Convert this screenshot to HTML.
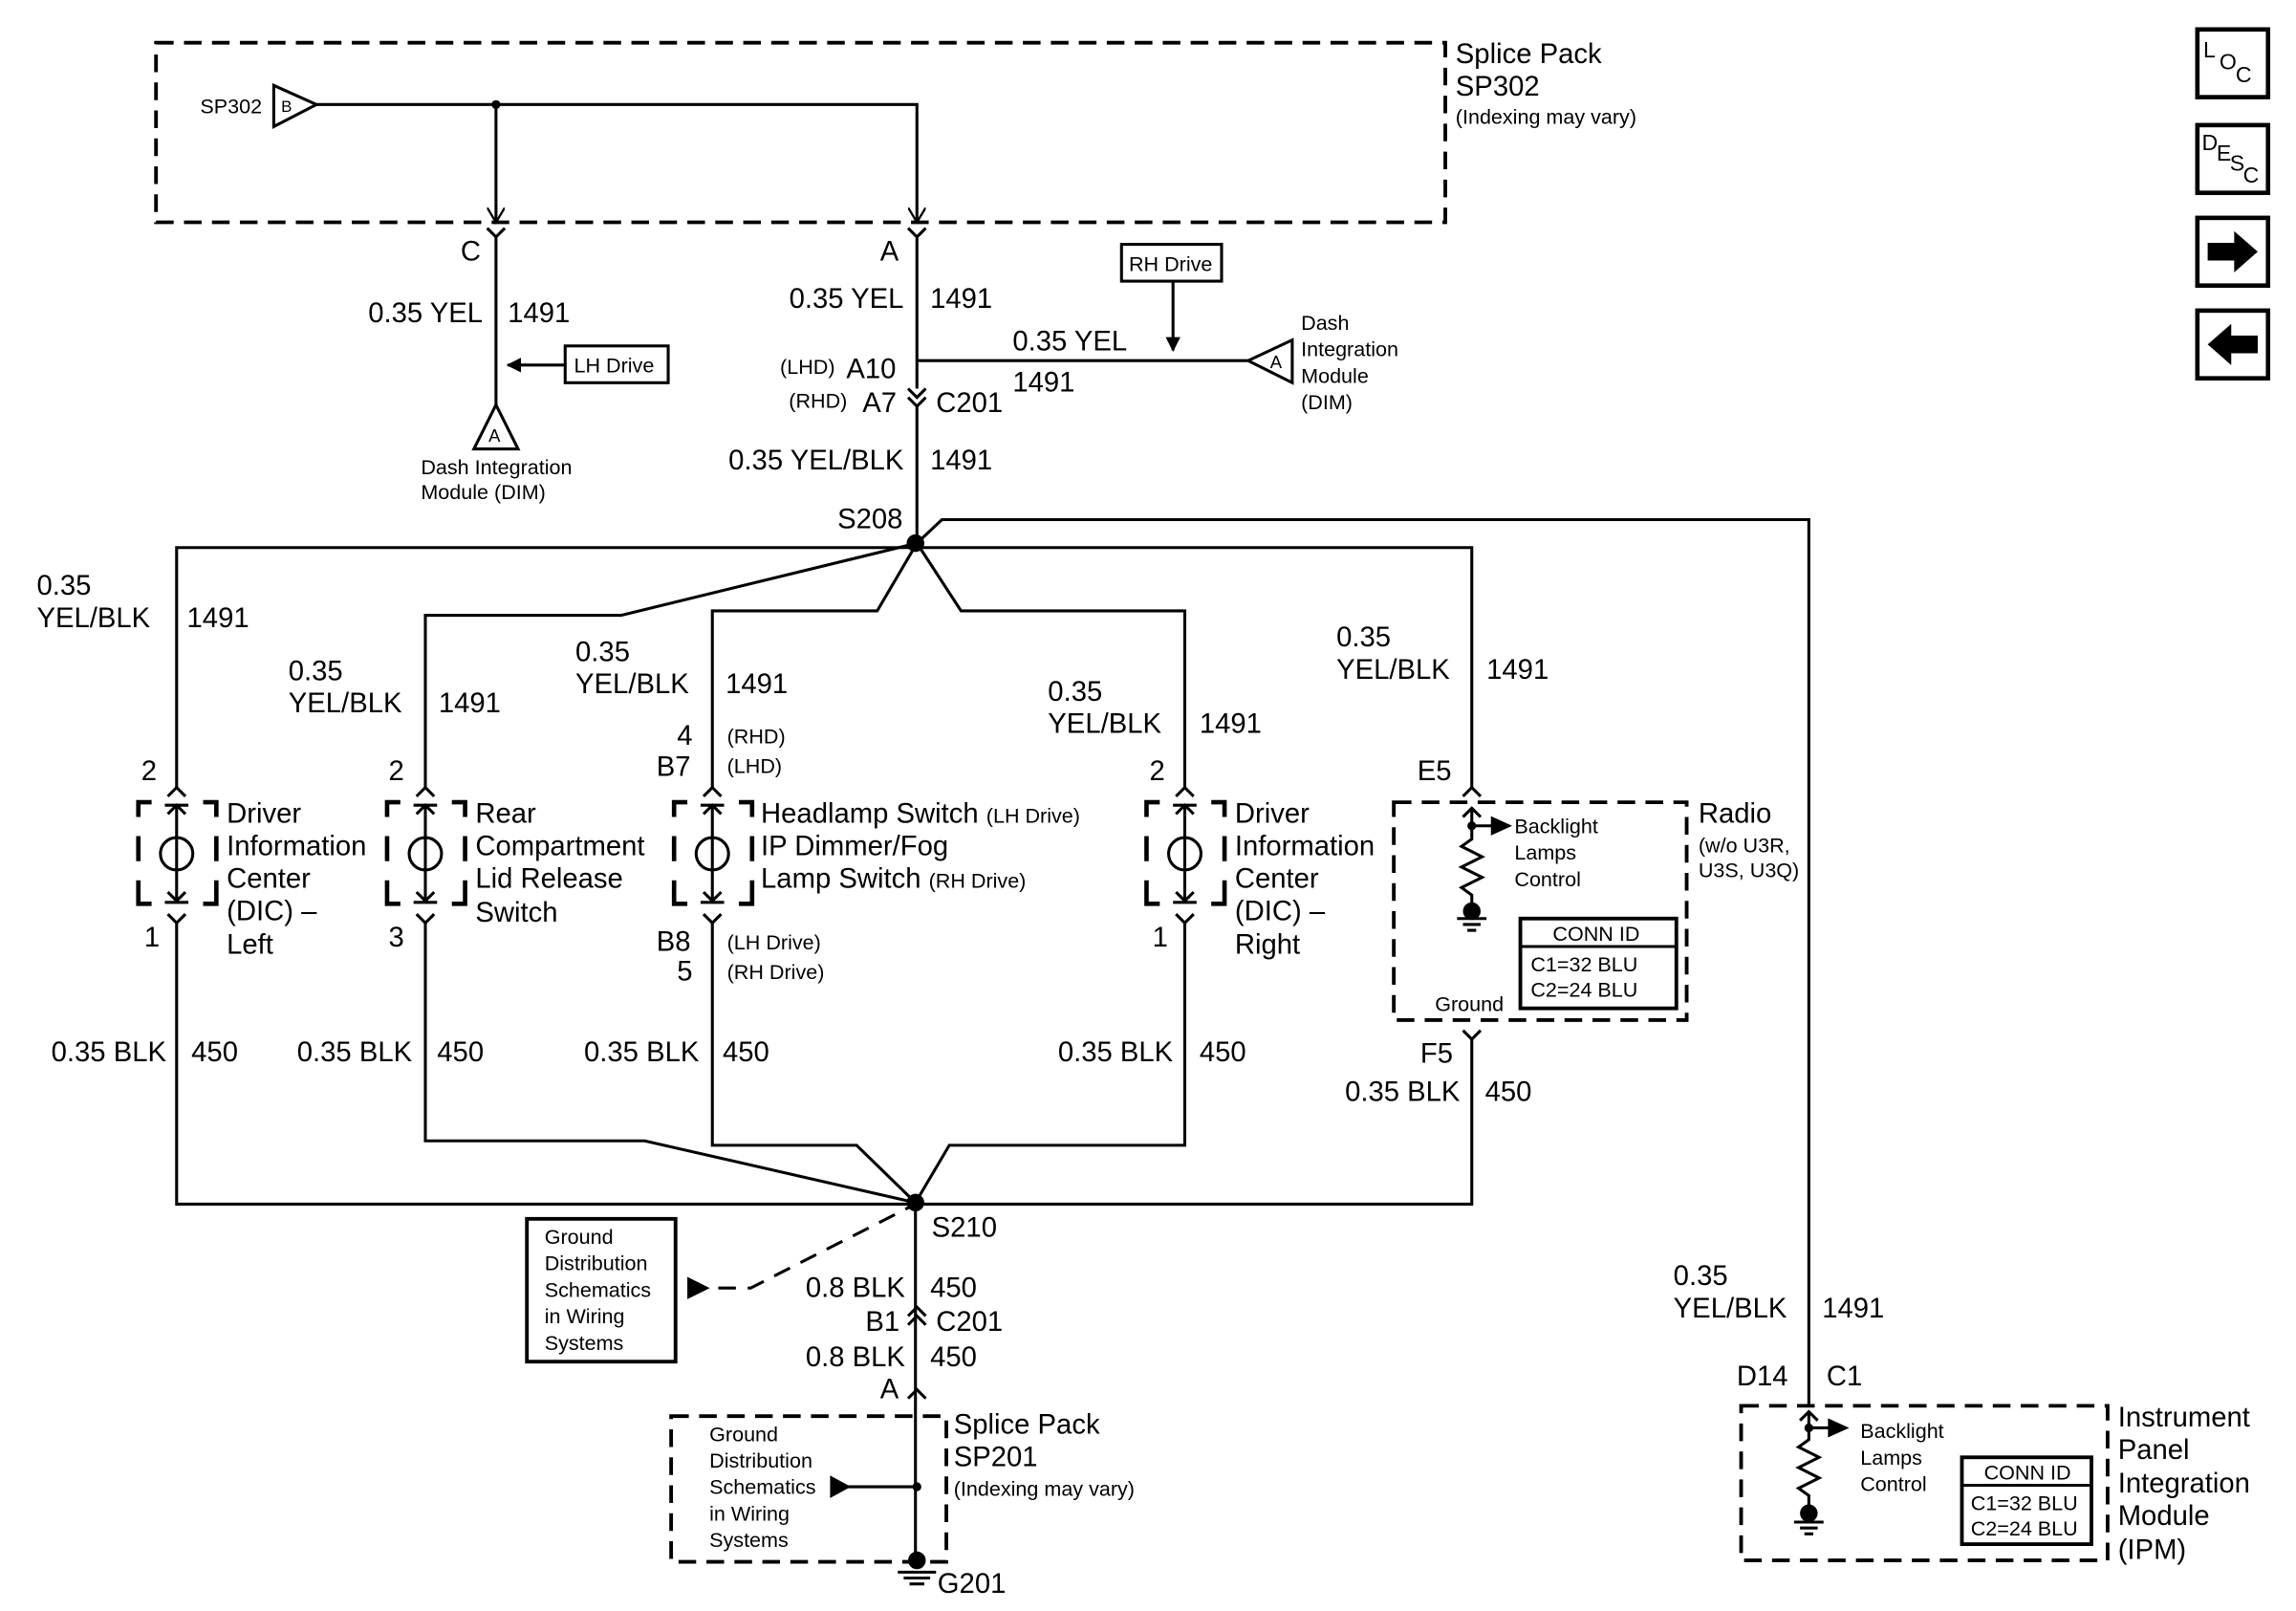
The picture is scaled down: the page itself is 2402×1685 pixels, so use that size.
<!DOCTYPE html>
<html><head><meta charset="utf-8"><style>
html,body{margin:0;padding:0;background:#fff;}
svg{display:block;}
text{font-family:"Liberation Sans",Arial,sans-serif;fill:#000;}
.b{font-size:19px;}
.s{font-size:14px;}
.m{font-size:15px;}
.r{text-anchor:end;}
</style></head><body>
<svg width="2402" height="1685" viewBox="0 0 1560 1094.4" preserveAspectRatio="none" xmlns="http://www.w3.org/2000/svg">
<defs>
<marker id="ah" markerWidth="10" markerHeight="10" refX="9" refY="5" orient="auto" markerUnits="userSpaceOnUse"><path d="M0,0 L10,5 L0,10 z" fill="#000"/></marker>
<marker id="oa" markerWidth="12" markerHeight="12" refX="10" refY="6" orient="auto" markerUnits="userSpaceOnUse"><path d="M0,0 L10,6 L0,12" fill="none" stroke="#000" stroke-width="1.5"/></marker>
</defs>
<g fill="none" stroke="#000" stroke-width="2">
<!-- top splice box -->
<rect x="106" y="29" width="876" height="122" stroke-dasharray="12,7" stroke-width="2.5"/>
<path d="M186,58 L215,71 L186,86 Z"/>
<path d="M215,71 H623 V151" marker-end="url(#oa)"/>
<path d="M337,71 V151" marker-end="url(#oa)"/>
<!-- connectors C, A -->
<path d="M331,155 L337,161 L343,155 M337,161 V275"/>
<path d="M617,155 L623,161 L629,155 M623,161 V264"/>
<path d="M322,305 L337,275 L352,305 Z"/>
<path d="M384,248 H345" marker-end="url(#ah)"/>
<rect x="384" y="235" width="70" height="25"/>
<!-- C201 top -->
<path d="M617,264 L623,270 L629,264 M617,270 L623,276 L629,270 M623,276 V369"/>
<path d="M623,245 H848"/>
<path d="M848,245 L878,231 L878,260 Z"/>
<rect x="762" y="166" width="68" height="25"/>
<path d="M797,191 V238" marker-end="url(#ah)"/>
<!-- S208 network -->
<path d="M623,369 L640,353 H1229 V955"/>
<path d="M120,535 V372 H1000 V535"/>
<path d="M623,369 L422,418 H289 V535"/>
<path d="M623,369 L596,415 H484 V535"/>
<path d="M623,369 L653,415 H805 V535"/>
<!-- bottom network -->
<path d="M120,627 V818 H1000 V706"/>
<path d="M289,627 V775 H438 L622,817"/>
<path d="M484,627 V778 H582 L622,817"/>
<path d="M805,627 V778 H645 L622,817"/>
<path d="M622,817 V1060"/>
<path d="M617,894 L623,888 L629,894 M617,900 L623,894 L629,900"/>
<path d="M617,950 L623,944 L629,950"/>
<path d="M468,875 H510 L618,820" stroke-dasharray="12,8"/>
<path d="M468,869 L480,875 L468,881 Z" fill="#000"/>
<rect x="358" y="828" width="101" height="97" stroke-width="2.5"/>
<rect x="456" y="962" width="187" height="99" stroke-dasharray="12,7" stroke-width="2.5"/>
<path d="M575,1010 H623"/>
<path d="M565,1004 L576,1010 L565,1016 Z" fill="#000"/>
<path d="M610,1068 H636 M614,1072 H632 M618,1076 H628"/>
<!-- F5 -->
<path d="M994,700 L1000,706 L1006,700"/>
<!-- Radio -->
<rect x="947" y="545" width="199" height="148" stroke-dasharray="12,7" stroke-width="2.5"/>
<path d="M994,541 L1000,535 L1006,541"/>
<path d="M994,555 L1000,549 L1006,555 M1000,549 V570 L993,575 L1007,582 L993,589 L1007,596 L993,603 L1000,608 V618 M990,624 H1010 M994,628 H1006 M997,632 H1003"/>
<path d="M1000,561 H1016"/>
<path d="M1014,556 L1025,561 L1014,566 Z" fill="#000"/>
<rect x="1033" y="624" width="106" height="61" stroke-width="2.5"/>
<path d="M1033,643 H1139"/>
<!-- IPM -->
<rect x="1183" y="955" width="249" height="105" stroke-dasharray="12,7" stroke-width="2.5"/>
<path d="M1223,965 L1229,959 L1235,965 M1229,959 V978 L1222,983 L1236,990 L1222,997 L1236,1004 L1222,1011 L1229,1016 V1026 M1219,1034 H1239 M1223,1038 H1235 M1226,1042 H1232"/>
<path d="M1229,970 H1245"/>
<path d="M1243,965 L1254,970 L1243,975 Z" fill="#000"/>
<rect x="1333" y="990" width="88" height="59" stroke-width="2.5"/>
<path d="M1333,1009 H1421"/>
<!-- right icons -->
<rect x="1493" y="20" width="48" height="46" stroke-width="3"/>
<rect x="1493" y="85" width="48" height="46" stroke-width="3"/>
<rect x="1493" y="148" width="48" height="46" stroke-width="3"/>
<rect x="1493" y="211" width="48" height="46" stroke-width="3"/>
</g>
<g fill="#000">
<circle cx="337" cy="71" r="3"/>
<circle cx="622" cy="369" r="6"/>
<circle cx="622" cy="817" r="6"/>
<circle cx="623" cy="1010" r="3"/>
<circle cx="623" cy="1060" r="6"/>
<circle cx="1000" cy="561" r="3"/>
<circle cx="1000" cy="619" r="6"/>
<circle cx="1229" cy="970" r="3"/>
<circle cx="1229" cy="1028" r="6"/>
<path d="M1500,165 H1518 V157 L1534,171 L1518,185 V177 H1500 Z"/>
<path d="M1534,228 H1516 V220 L1500,234 L1516,248 V240 H1534 Z"/>
</g>
<!-- component symbols -->
<g fill="none" stroke="#000" stroke-width="2">
<g id="cmp">
<path d="M114,541 L120,535 L126,541"/>
<path d="M94,555 V545 H103 M94,568 V585 M94,598 V614 H103 M138,545 H147 V555 M147,568 V585 M147,598 V614 H138" stroke-width="3"/>
<path d="M112,547 H128 M114,553 L120,547 L126,553 M120,547 V612 M114,606 L120,612 L126,606 M112,613 H128"/>
<circle cx="120" cy="580" r="11"/>
<path d="M114,621 L120,627 L126,621"/>
</g>
<use href="#cmp" x="169"/>
<use href="#cmp" x="364"/>
<use href="#cmp" x="685"/>
</g>
<!-- text -->
<text class="s" x="136" y="77">SP302</text>
<text class="s" x="191" y="76" style="font-size:11px">B</text>
<text class="b" x="989" y="43">Splice Pack</text>
<text class="b" x="989" y="65">SP302</text>
<text class="s" x="989" y="84">(Indexing may vary)</text>
<text class="b" x="313" y="177">C</text>
<text class="b" x="598" y="177">A</text>
<text class="b r" x="328" y="219">0.35 YEL</text>
<text class="b" x="345" y="219">1491</text>
<text class="s" x="332" y="300" style="font-size:12px">A</text>
<text class="s" x="390" y="253">LH Drive</text>
<text class="s" x="286" y="322">Dash Integration</text>
<text class="s" x="286" y="339">Module (DIM)</text>
<text class="b r" x="614" y="209">0.35 YEL</text>
<text class="b" x="632" y="209">1491</text>
<text class="s" x="530" y="254">(LHD)</text>
<text class="b" x="575" y="257">A10</text>
<text class="s" x="536" y="277">(RHD)</text>
<text class="b" x="586" y="280">A7</text>
<text class="b" x="636" y="280">C201</text>
<text class="b" x="688" y="238">0.35 YEL</text>
<text class="b" x="688" y="266">1491</text>
<text class="s" x="767" y="184">RH Drive</text>
<text class="s" x="863" y="250" style="font-size:12px">A</text>
<text class="s" x="884" y="224">Dash</text>
<text class="s" x="884" y="242">Integration</text>
<text class="s" x="884" y="260">Module</text>
<text class="s" x="884" y="278">(DIM)</text>
<text class="b r" x="614" y="319">0.35 YEL/BLK</text>
<text class="b" x="632" y="319">1491</text>
<text class="b" x="569" y="359">S208</text>
<text class="b" x="25" y="404">0.35</text><text class="b" x="25" y="426">YEL/BLK</text><text class="b" x="127" y="426">1491</text>
<text class="b" x="196" y="462">0.35</text><text class="b" x="196" y="484">YEL/BLK</text><text class="b" x="298" y="484">1491</text>
<text class="b" x="391" y="449">0.35</text><text class="b" x="391" y="471">YEL/BLK</text><text class="b" x="493" y="471">1491</text>
<text class="b" x="712" y="476">0.35</text><text class="b" x="712" y="498">YEL/BLK</text><text class="b" x="815" y="498">1491</text>
<text class="b" x="908" y="439">0.35</text><text class="b" x="908" y="461">YEL/BLK</text><text class="b" x="1010" y="461">1491</text>
<text class="b" x="96" y="530">2</text>
<text class="b" x="264" y="530">2</text>
<text class="b" x="460" y="506">4</text>
<text class="b" x="446" y="527">B7</text>
<text class="s" x="494" y="505">(RHD)</text>
<text class="s" x="494" y="525">(LHD)</text>
<text class="b" x="781" y="530">2</text>
<text class="b" x="963" y="530">E5</text>
<text class="b" x="154" y="559">Driver</text><text class="b" x="154" y="581">Information</text><text class="b" x="154" y="603">Center</text><text class="b" x="154" y="625">(DIC) –</text><text class="b" x="154" y="648">Left</text>
<text class="b" x="323" y="559">Rear</text><text class="b" x="323" y="581">Compartment</text><text class="b" x="323" y="603">Lid Release</text><text class="b" x="323" y="626">Switch</text>
<text class="b" x="517" y="559">Headlamp Switch <tspan class="s">(LH Drive)</tspan></text><text class="b" x="517" y="581">IP Dimmer/Fog</text><text class="b" x="517" y="603">Lamp Switch <tspan class="s">(RH Drive)</tspan></text>
<text class="b" x="839" y="559">Driver</text><text class="b" x="839" y="581">Information</text><text class="b" x="839" y="603">Center</text><text class="b" x="839" y="625">(DIC) –</text><text class="b" x="839" y="648">Right</text>
<text class="s" x="1029" y="566">Backlight</text><text class="s" x="1029" y="584">Lamps</text><text class="s" x="1029" y="602">Control</text>
<text class="s" x="1055" y="639">CONN ID</text>
<text class="s" x="1040" y="660">C1=32 BLU</text><text class="s" x="1040" y="677">C2=24 BLU</text>
<text class="s" x="975" y="687">Ground</text>
<text class="b" x="1154" y="559">Radio</text>
<text class="s" x="1154" y="579">(w/o U3R,</text><text class="s" x="1154" y="596">U3S, U3Q)</text>
<text class="b" x="98" y="643">1</text>
<text class="b" x="264" y="643">3</text>
<text class="b" x="446" y="646">B8</text><text class="b" x="460" y="666">5</text>
<text class="s" x="494" y="645">(LH Drive)</text><text class="s" x="494" y="665">(RH Drive)</text>
<text class="b" x="783" y="643">1</text>
<text class="b r" x="113" y="721">0.35 BLK</text><text class="b" x="130" y="721">450</text>
<text class="b r" x="280" y="721">0.35 BLK</text><text class="b" x="297" y="721">450</text>
<text class="b r" x="475" y="721">0.35 BLK</text><text class="b" x="491" y="721">450</text>
<text class="b r" x="797" y="721">0.35 BLK</text><text class="b" x="815" y="721">450</text>
<text class="b" x="965" y="722">F5</text>
<text class="b r" x="992" y="748">0.35 BLK</text><text class="b" x="1009" y="748">450</text>
<text class="b" x="633" y="840">S210</text>
<text class="s" x="370" y="845">Ground</text><text class="s" x="370" y="863">Distribution</text><text class="s" x="370" y="881">Schematics</text><text class="s" x="370" y="899">in Wiring</text><text class="s" x="370" y="917">Systems</text>
<text class="b r" x="615" y="881">0.8 BLK</text><text class="b" x="632" y="881">450</text>
<text class="b" x="588" y="904">B1</text><text class="b" x="636" y="904">C201</text>
<text class="b r" x="615" y="928">0.8 BLK</text><text class="b" x="632" y="928">450</text>
<text class="b" x="598" y="950">A</text>
<text class="s" x="482" y="979">Ground</text><text class="s" x="482" y="997">Distribution</text><text class="s" x="482" y="1015">Schematics</text><text class="s" x="482" y="1033">in Wiring</text><text class="s" x="482" y="1051">Systems</text>
<text class="b" x="648" y="974">Splice Pack</text><text class="b" x="648" y="996">SP201</text>
<text class="s" x="648" y="1016">(Indexing may vary)</text>
<text class="b" x="637" y="1082">G201</text>
<text class="b" x="1137" y="873">0.35</text><text class="b" x="1137" y="895">YEL/BLK</text><text class="b" x="1238" y="895">1491</text>
<text class="b" x="1180" y="941">D14</text><text class="b" x="1241" y="941">C1</text>
<text class="s" x="1264" y="977">Backlight</text><text class="s" x="1264" y="995">Lamps</text><text class="s" x="1264" y="1013">Control</text>
<text class="s" x="1348" y="1005">CONN ID</text>
<text class="s" x="1339" y="1026">C1=32 BLU</text><text class="s" x="1339" y="1043">C2=24 BLU</text>
<text class="b" x="1439" y="969">Instrument</text><text class="b" x="1439" y="991">Panel</text><text class="b" x="1439" y="1014">Integration</text><text class="b" x="1439" y="1036">Module</text><text class="b" x="1439" y="1059">(IPM)</text>
<text class="m" x="1497" y="39">L</text><text class="m" x="1508" y="47">O</text><text class="m" x="1519" y="56">C</text>
<text class="m" x="1496" y="102">D</text><text class="m" x="1506" y="109">E</text><text class="m" x="1515" y="116">S</text><text class="m" x="1524" y="124">C</text>
</svg>
</body></html>
